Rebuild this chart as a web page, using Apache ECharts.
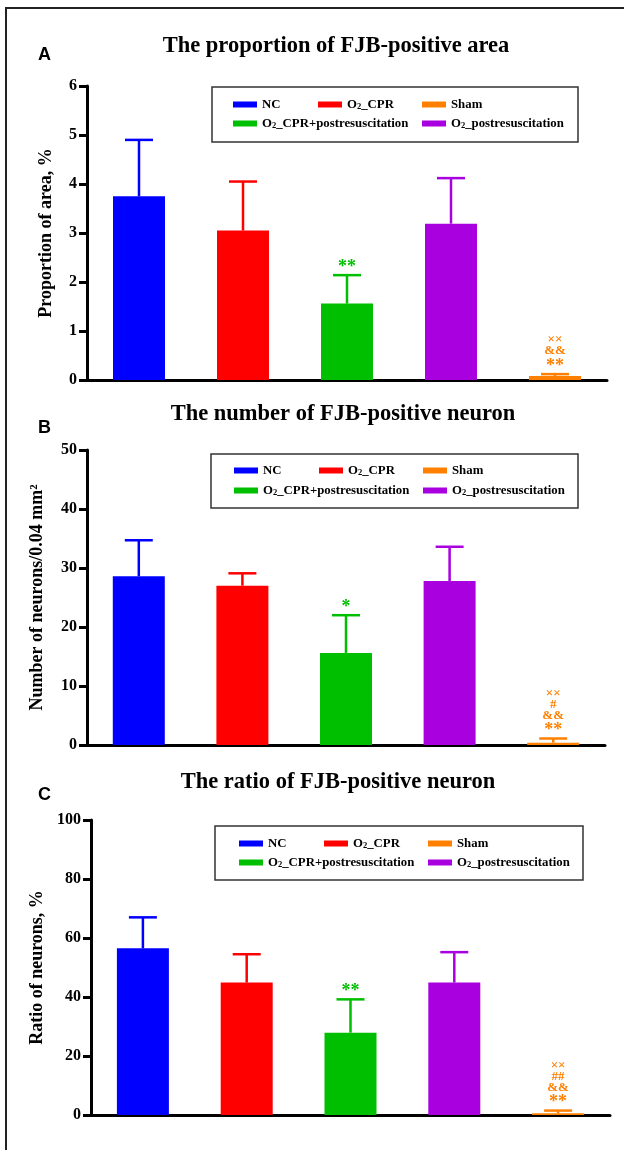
<!DOCTYPE html>
<html>
<head>
<meta charset="utf-8">
<script src="https://cdn.jsdelivr.net/npm/echarts@6/dist/echarts.min.js"></script>
<style>
  html, body { margin: 0; padding: 0; background: #fff; }
  #main { width: 624px; height: 1150px; }
</style>
</head>
<body>
<div id="main"></div>
<script>
// bar order along the x axis
const categories = ['NC', 'O2_CPR', 'O2_CPR+postresuscitation', 'O2_postresuscitation', 'Sham'];
// legend columns (left to right), each read top to bottom
const legendColumns = [['NC', 'O2_CPR+postresuscitation'], ['O2_CPR'], ['Sham', 'O2_postresuscitation']];
const colors = ['#0000FF', '#FF0000', '#00BF00', '#A900E0', '#FF8000'];

// A: proportion of FJB-positive area (%), mean and mean+SD
const areaMean = [3.75, 3.05, 1.56, 3.19, 0.08];
const areaUpper = [4.90, 4.05, 2.14, 4.12, 0.12];
const areaMarks = ['', '', '**', '', '××\n&&\n**'];

// B: number of FJB-positive neurons per 0.04 mm2
const neuronMean = [28.6, 27.0, 15.6, 27.8, 0.4];
const neuronUpper = [34.7, 29.1, 22.0, 33.6, 1.1];
const neuronMarks = ['', '', '*', '', '××\n#\n&&\n**'];

// C: ratio of FJB-positive neurons (%)
const ratioMean = [56.5, 44.9, 27.9, 44.9, 0.6];
const ratioUpper = [67.0, 54.5, 39.2, 55.2, 1.5];
const ratioMarks = ['', '', '**', '', '××\n##\n&&\n**'];

const serif = '"Liberation Serif", "Times New Roman", serif';

const panels = [
  {
    letter: 'A', title: 'The proportion of FJB-positive area', yName: 'Proportion of area, %',
    max: 6, interval: 1, mean: areaMean, upper: areaUpper, marks: areaMarks,
    grid: { left: 87, right: 17, top: 86, height: 294 }, nameGap: 32,
    titleX: 336, titleY: 35, letterY: 46,
    box: { x: 212, y: 87, w: 366, h: 55 }, swatchX: 233, row1: 103, rowGap: 6
  },
  {
    letter: 'B', title: 'The number of FJB-positive neuron', yName: 'Number of neurons/0.04 mm²',
    max: 50, interval: 10, mean: neuronMean, upper: neuronUpper, marks: neuronMarks,
    grid: { left: 87, right: 19, top: 450, height: 295 }, nameGap: 41,
    titleX: 343, titleY: 403, letterY: 419,
    box: { x: 211, y: 454, w: 367, h: 54 }, swatchX: 234, row1: 469, rowGap: 7
  },
  {
    letter: 'C', title: 'The ratio of FJB-positive neuron', yName: 'Ratio of neurons, %',
    max: 100, interval: 20, mean: ratioMean, upper: ratioUpper, marks: ratioMarks,
    grid: { left: 91, right: 14, top: 820, height: 295 }, nameGap: 44,
    titleX: 338, titleY: 771, letterY: 786,
    box: { x: 215, y: 826, w: 368, h: 54 }, swatchX: 239, row1: 842, rowGap: 6
  }
];
const columnOffsets = [0, 85, 189];

function legendLabel(name) {
  if (name.indexOf('O2') === 0) return '{b|O}{s|2}{b|' + name.slice(2) + '}';
  return '{b|' + name + '}';
}

function errorBar(marks) {
  return function (params, api) {
    const i = api.value(0);
    const base = api.coord([i, api.value(1)]);
    const top = api.coord([i, api.value(2)]);
    const color = colors[i];
    const half = 14;
    const children = [
      { type: 'line', shape: { x1: top[0], y1: base[1], x2: top[0], y2: top[1] },
        style: { stroke: color, lineWidth: 2.5 } },
      { type: 'line', shape: { x1: top[0] - half, y1: top[1], x2: top[0] + half, y2: top[1] },
        style: { stroke: color, lineWidth: 2.5 } }
    ];
    if (marks[i]) {
      const lines = marks[i].split('\n');
      lines.forEach((line, j) => {
        const star = line.indexOf('*') >= 0;
        const cy = top[1] - 12 - (lines.length - 1 - j) * 11;
        children.push({
          type: 'text', x: top[0], y: star ? cy + 4 : cy,
          style: { text: line, fill: color,
                   font: 'bold ' + (star ? 18 : 13) + 'px ' + serif,
                   align: 'center', verticalAlign: 'middle' }
        });
      });
    }
    return { type: 'group', children: children };
  };
}

const legends = [];
const graphics = [
  { type: 'rect', shape: { x: 6, y: 8, width: 700, height: 1200 },
    style: { fill: 'none', stroke: '#222', lineWidth: 2 }, silent: true }
];

panels.forEach(p => {
  legendColumns.forEach((col, c) => {
    legends.push({
      left: p.swatchX + columnOffsets[c], top: p.row1 - 5, padding: 0,
      orient: 'vertical', itemGap: p.rowGap,
      itemWidth: 24, itemHeight: 6, icon: 'rect', selectedMode: false,
      data: col, formatter: legendLabel,
      textStyle: {
        rich: {
          b: { fontFamily: serif, fontWeight: 'bold', fontSize: 12.8, lineHeight: 14, color: '#000' },
          s: { fontFamily: serif, fontWeight: 'bold', fontSize: 8.5, lineHeight: 6, verticalAlign: 'bottom', color: '#000' }
        }
      }
    });
  });
  graphics.push({
    type: 'rect', shape: { x: p.box.x, y: p.box.y, width: p.box.w, height: p.box.h },
    style: { fill: 'none', stroke: '#333', lineWidth: 1.5 }, silent: true
  });
  graphics.push({
    type: 'text', left: 38, top: p.letterY,
    style: { text: p.letter, font: 'bold 18px "Liberation Sans", Arial, sans-serif', fill: '#000' }
  });
});

const option = {
  animation: false,
  backgroundColor: '#fff',
  title: panels.map(p => ({
    text: p.title, left: p.titleX, top: p.titleY, textAlign: 'center', padding: 0,
    textStyle: { fontFamily: serif, fontWeight: 'bold', fontSize: 22.5, color: '#000' }
  })),
  legend: legends,
  grid: panels.map(p => p.grid),
  xAxis: panels.map((p, k) => ({
    type: 'category', gridIndex: k, data: categories,
    axisLine: { show: true, lineStyle: { color: '#000', width: 3 } },
    axisTick: { show: false }, axisLabel: { show: false }
  })),
  yAxis: panels.map((p, k) => ({
    type: 'value', gridIndex: k, min: 0, max: p.max, interval: p.interval,
    name: p.yName, nameLocation: 'middle', nameGap: p.nameGap, nameRotate: 90,
    nameTextStyle: { fontFamily: serif, fontWeight: 'bold', fontSize: 18, color: '#000' },
    axisLine: { show: true, lineStyle: { color: '#000', width: 3 } },
    axisTick: { show: true, length: 8, lineStyle: { color: '#000', width: 3 } },
    axisLabel: { fontFamily: serif, fontWeight: 'bold', fontSize: 16, color: '#000', margin: 10 },
    splitLine: { show: false }
  })),
  series: [],
  graphic: graphics
};

panels.forEach((p, k) => {
  categories.forEach((name, i) => {
    option.series.push({
      name: name, type: 'bar', xAxisIndex: k, yAxisIndex: k,
      barWidth: 52, barGap: '-100%',
      itemStyle: { color: colors[i] },
      data: categories.map((c, j) => (j === i ? p.mean[j] : '-'))
    });
  });
  option.series.push({
    type: 'custom', xAxisIndex: k, yAxisIndex: k, z: 5,
    renderItem: errorBar(p.marks),
    encode: { x: 0, y: 2 },
    data: categories.map((c, i) => [i, p.mean[i], p.upper[i]])
  });
});

const myChart = echarts.init(document.getElementById('main'));
myChart.setOption(option);
</script>
</body>
</html>
